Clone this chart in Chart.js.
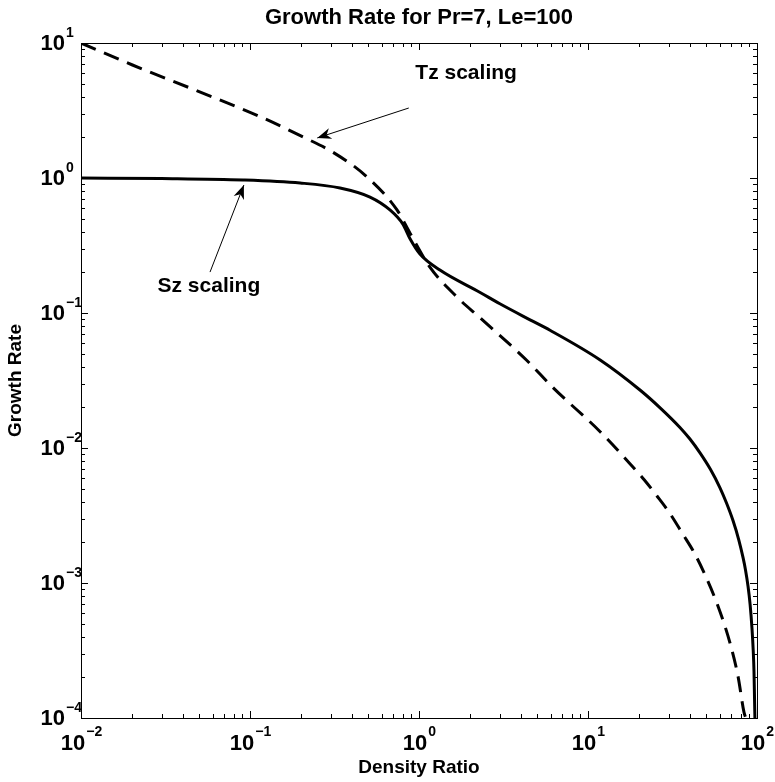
<!DOCTYPE html>
<html>
<head>
<meta charset="utf-8">
<script src="https://cdn.jsdelivr.net/npm/chart.js@4.4.0/dist/chart.umd.min.js"></script>
<style>
  html, body { margin: 0; padding: 0; background: #fff; }
</style>
</head>
<body>
<canvas id="growth" width="775" height="782"></canvas>
<script>
// Tz scaling (dashed)
const tzX = [0.01, 0.02, 0.0442, 0.1146, 0.2, 0.31, 0.492, 0.741, 0.885, 1.16, 1.68, 2.3, 4.35, 6.21, 11.8, 18.5, 21.5, 25.6, 30.5, 36.5, 42, 47.9, 57.9, 69.2, 77.2, 83.8, 85.8];
const tzY = [10, 6.9, 4.64, 2.85, 2.05, 1.55, 1.02, 0.58, 0.39, 0.219, 0.131, 0.092, 0.0445, 0.028, 0.0132, 0.0072, 0.00582, 0.00441, 0.00328, 0.00229, 0.00172, 0.00124, 0.000708, 0.00036, 0.000204, 0.00011, 0.0001];

// Sz scaling (solid)
const szX = [0.01, 0.03, 0.091, 0.198, 0.341, 0.513, 0.673, 0.803, 0.885, 1.01, 1.33, 2.3, 3.01, 4.54, 5.96, 11.8, 20.3, 27, 35.0, 40, 46.0, 53, 60.4, 66, 72.1, 78, 82.7, 85.5, 88.5, 91, 93.4, 95, 96, 96.7, 97.2];
const szY = [1.0, 0.99, 0.966, 0.918, 0.843, 0.722, 0.58, 0.455, 0.355, 0.275, 0.208, 0.142, 0.117, 0.089, 0.0745, 0.0449, 0.0269, 0.0196, 0.0142, 0.0117, 0.0092, 0.00695, 0.00507, 0.00391, 0.0029, 0.00209, 0.00154, 0.00125, 0.000946, 0.000698, 0.000461, 0.000315, 0.00022, 0.000138, 0.0001];

// axis decades (tick labels are 10^n)
const xExponents = [-2, -1, 0, 1, 2];
const yExponents = [-4, -3, -2, -1, 0, 1];

const titleText = "Growth Rate for Pr=7, Le=100";
const xLabel = "Density Ratio";
const yLabel = "Growth Rate";

const toPoints = (xs, ys) => xs.map((x, i) => ({ x: x, y: ys[i] }));

const FONT = '"Liberation Sans", Arial, Helvetica, sans-serif';

// draws frame, inward ticks, labels, title and the two arrows
const matlabAxes = {
  id: "matlabAxes",
  afterDraw(chart) {
    const ctx = chart.ctx;
    const a = chart.chartArea;
    const xs = chart.scales.x;
    const ys = chart.scales.y;
    ctx.save();

    // box
    ctx.strokeStyle = "#000";
    ctx.lineWidth = 1;
    ctx.strokeRect(Math.round(a.left) + 0.5, Math.round(a.top) + 0.5, Math.round(a.right - a.left), Math.round(a.bottom - a.top));

    // ticks on all four sides
    ctx.beginPath();
    const tickX = (v, len) => {
      const p = Math.round(xs.getPixelForValue(v)) + 0.5;
      ctx.moveTo(p, a.bottom); ctx.lineTo(p, a.bottom - len);
      ctx.moveTo(p, a.top); ctx.lineTo(p, a.top + len);
    };
    const tickY = (v, len) => {
      const p = Math.round(ys.getPixelForValue(v)) + 0.5;
      ctx.moveTo(a.left, p); ctx.lineTo(a.left + len, p);
      ctx.moveTo(a.right, p); ctx.lineTo(a.right - len, p);
    };
    xExponents.forEach((e, i) => {
      tickX(Math.pow(10, e), 7);
      if (i < xExponents.length - 1) for (let k = 2; k < 10; k++) tickX(k * Math.pow(10, e), 4);
    });
    yExponents.forEach((e, i) => {
      tickY(Math.pow(10, e), 7);
      if (i < yExponents.length - 1) for (let k = 2; k < 10; k++) tickY(k * Math.pow(10, e), 4);
    });
    ctx.stroke();

    // tick labels 10^n
    ctx.fillStyle = "#000";
    const baseFont = "bold 22px " + FONT;
    const expFont = "bold 14px " + FONT;
    const expStr = (e) => (e < 0 ? "\u2212" + (-e) : "" + e);
    ctx.textBaseline = "middle";
    ctx.textAlign = "left";
    xExponents.forEach((e) => {
      const p = xs.getPixelForValue(Math.pow(10, e));
      ctx.font = baseFont;
      const w1 = ctx.measureText("10").width;
      ctx.font = expFont;
      const w2 = ctx.measureText(expStr(e)).width;
      const x0 = p - (w1 + w2) / 2;
      ctx.font = baseFont;
      ctx.fillText("10", x0, a.bottom + 26);
      ctx.font = expFont;
      ctx.fillText(expStr(e), x0 + w1 + 1, a.bottom + 14);
    });
    yExponents.forEach((e) => {
      const p = ys.getPixelForValue(Math.pow(10, e));
      ctx.font = baseFont;
      ctx.textAlign = "right";
      ctx.fillText("10", a.left - 16, p + 1);
      ctx.font = expFont;
      ctx.textAlign = "left";
      ctx.fillText(expStr(e), a.left - 15, p - 10);
    });

    // title and axis labels
    ctx.textAlign = "center";
    ctx.font = "bold 22px " + FONT;
    ctx.fillText(titleText, (a.left + a.right) / 2, 18);
    ctx.font = "bold 19px " + FONT;
    ctx.fillText(xLabel, (a.left + a.right) / 2, 768);
    ctx.save();
    ctx.translate(16, (a.top + a.bottom) / 2);
    ctx.rotate(-Math.PI / 2);
    ctx.fillText(yLabel, 0, 0);
    ctx.restore();

    // annotations (anchored in data coordinates)
    const px = (x) => xs.getPixelForValue(x);
    const py = (y) => ys.getPixelForValue(y);
    const arrow = (x1, y1, x2, y2) => {
      ctx.beginPath();
      ctx.moveTo(x1, y1); ctx.lineTo(x2, y2);
      ctx.lineWidth = 1;
      ctx.stroke();
      const ang = Math.atan2(y2 - y1, x2 - x1);
      const L = 14, W = 5.5;
      const bx = x2 - L * Math.cos(ang), by = y2 - L * Math.sin(ang);
      const nx = -Math.sin(ang), ny = Math.cos(ang);
      const mx = x2 - L * 0.7 * Math.cos(ang), my = y2 - L * 0.7 * Math.sin(ang);
      ctx.beginPath();
      ctx.moveTo(x2, y2);
      ctx.lineTo(bx + nx * W, by + ny * W);
      ctx.lineTo(mx, my);
      ctx.lineTo(bx - nx * W, by - ny * W);
      ctx.closePath();
      ctx.fill();
    };
    ctx.font = "bold 21px " + FONT;
    ctx.fillText("Tz scaling", px(1.9), py(6.0));
    arrow(px(0.87), py(3.3), px(0.25), py(1.98));
    ctx.fillText("Sz scaling", px(0.0571), py(0.157));
    arrow(px(0.058), py(0.201), px(0.092), py(0.887));

    ctx.restore();
  }
};

new Chart(document.getElementById("growth"), {
  type: "scatter",
  data: {
    datasets: [
      {
        label: "Tz scaling",
        data: toPoints(tzX, tzY),
        showLine: true,
        borderColor: "#000",
        borderWidth: 3,
        borderDash: [16, 9],
        pointRadius: 0,
        cubicInterpolationMode: "monotone",
        fill: false,
      },
      {
        label: "Sz scaling",
        data: toPoints(szX, szY),
        showLine: true,
        borderColor: "#000",
        borderWidth: 3,
        pointRadius: 0,
        cubicInterpolationMode: "monotone",
        fill: false,
      },
    ],
  },
  options: {
    responsive: false,
    animation: false,
    devicePixelRatio: 1,
    layout: { padding: { left: 81, top: 43, right: 18, bottom: 64 } },
    plugins: {
      legend: { display: false },
      tooltip: { enabled: false },
      title: { display: false },
    },
    scales: {
      x: {
        type: "logarithmic",
        min: 0.01,
        max: 100,
        ticks: { display: false },
        grid: { display: false },
        border: { display: false },
        afterFit: (s) => { s.height = 0; },
      },
      y: {
        type: "logarithmic",
        min: 0.0001,
        max: 10,
        ticks: { display: false },
        grid: { display: false },
        border: { display: false },
        afterFit: (s) => { s.width = 0; },
      },
    },
  },
  plugins: [matlabAxes],
});
</script>
</body>
</html>
